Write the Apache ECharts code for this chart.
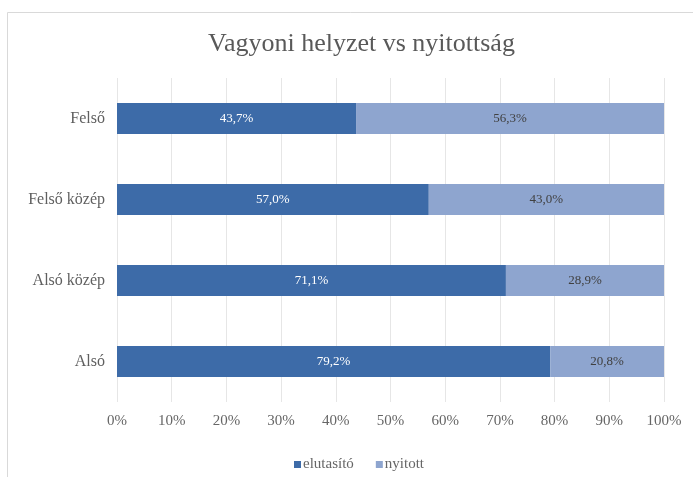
<!DOCTYPE html>
<html>
<head>
<meta charset="utf-8">
<script src="https://cdn.jsdelivr.net/npm/echarts@6/dist/echarts.min.js"></script>
<style>
  html, body { margin: 0; padding: 0; background: #fff; }
  #chart { width: 693px; height: 477px; }
</style>
</head>
<body>
<div id="chart"></div>
<script>
// Wealth groups, bottom to top on the category axis
const categories = ['Alsó', 'Alsó közép', 'Felső közép', 'Felső'];
// Share of each answer per group (%)
const elutasito = [79.2, 71.1, 57.0, 43.7];
const nyitott = [20.8, 28.9, 43.0, 56.3];
const tickLabels = ['0%', '10%', '20%', '30%', '40%', '50%', '60%', '70%', '80%', '90%', '100%'];

const serif = '"Liberation Serif", "DejaVu Serif", serif';
const fmt = v => v.toFixed(1).replace('.', ',') + '%';

const chart = echarts.init(document.getElementById('chart'), null, { renderer: 'canvas' });
chart.setOption({
  backgroundColor: '#ffffff',
  animation: false,
  graphic: [{
    type: 'rect',
    shape: { x: 7.5, y: 12.5, width: 700, height: 480 },
    style: { fill: 'none', stroke: '#d9d9d9', lineWidth: 1 },
    silent: true
  }],
  title: {
    text: 'Vagyoni helyzet vs nyitottság',
    left: 203,
    top: 26,
    textStyle: { fontFamily: serif, fontSize: 26, fontWeight: 'normal', color: '#595959' }
  },
  grid: { left: 117, right: 29, top: 78, bottom: 75, containLabel: false },
  legend: {
    left: 289,
    top: 452,
    itemWidth: 7,
    itemHeight: 7,
    itemGap: 22,
    icon: 'rect',
    textStyle: { fontFamily: serif, fontSize: 15, color: '#666666', padding: [0, 0, 0, -3] },
    data: ['elutasító', 'nyitott']
  },
  xAxis: {
    type: 'value',
    min: 0,
    max: 100,
    interval: 10,
    axisLine: { show: false },
    axisTick: { show: false },
    axisLabel: {
      fontFamily: serif, fontSize: 15, color: '#666666', margin: 12,
      formatter: v => tickLabels[Math.round(v / 10)]
    },
    splitLine: { show: true, lineStyle: { color: '#e6e6e6', width: 1 } }
  },
  yAxis: {
    type: 'category',
    data: categories,
    axisLine: { show: false },
    axisTick: { show: false },
    axisLabel: { fontFamily: serif, fontSize: 16, color: '#5f5f5f', margin: 12 }
  },
  series: [
    {
      name: 'elutasító',
      type: 'bar',
      stack: 'total',
      barWidth: '38%',
      data: elutasito,
      itemStyle: { color: '#3d6ba8' },
      label: {
        show: true, position: 'inside', color: '#ffffff',
        fontFamily: serif, fontSize: 13,
        formatter: p => fmt(p.value)
      }
    },
    {
      name: 'nyitott',
      type: 'bar',
      stack: 'total',
      barWidth: '38%',
      data: nyitott,
      itemStyle: { color: '#8ea5cf' },
      label: {
        show: true, position: 'inside', color: '#404040',
        fontFamily: serif, fontSize: 13,
        formatter: p => fmt(p.value)
      }
    }
  ]
});
</script>
</body>
</html>
